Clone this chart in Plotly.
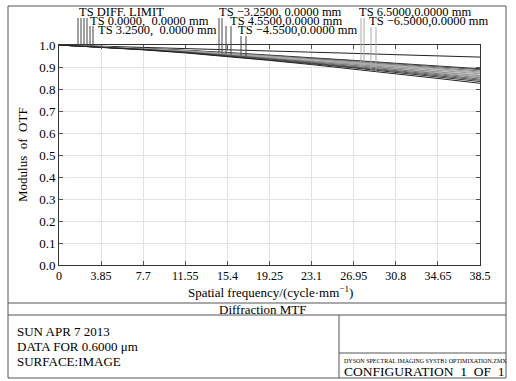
import plotly.graph_objects as go
import numpy as np

# ---------------- data ----------------
freq = [0, 3.85, 7.7, 11.55, 15.4, 19.25, 23.1, 26.95, 30.8, 34.65, 38.5]
tick_labels = ["0", "3.85", "7.7", "11.55", "15.4", "19.25", "23.1", "26.95", "30.8", "34.65", "38.5"]
y_ticks = [0.0, 0.1, 0.2, 0.3, 0.4, 0.5, 0.6, 0.7, 0.8, 0.9, 1.0]

diff_limit = [1.000, 0.995, 0.990, 0.984, 0.979, 0.973, 0.967, 0.962, 0.956, 0.951, 0.945]
t_0 = [1.000, 0.993, 0.985, 0.976, 0.966, 0.955, 0.943, 0.930, 0.917, 0.905, 0.892]
s_0 = [1.000, 0.993, 0.984, 0.975, 0.964, 0.953, 0.941, 0.928, 0.914, 0.901, 0.888]
t_325 = [1.000, 0.992, 0.984, 0.974, 0.963, 0.951, 0.938, 0.924, 0.910, 0.896, 0.882]
s_325 = [1.000, 0.992, 0.983, 0.973, 0.962, 0.949, 0.936, 0.921, 0.907, 0.892, 0.877]
t_m325 = [1.000, 0.992, 0.983, 0.973, 0.961, 0.948, 0.934, 0.919, 0.904, 0.888, 0.873]
s_m325 = [1.000, 0.992, 0.983, 0.972, 0.960, 0.947, 0.932, 0.917, 0.901, 0.885, 0.869]
t_455 = [1.000, 0.992, 0.982, 0.971, 0.959, 0.945, 0.930, 0.914, 0.898, 0.881, 0.864]
s_455 = [1.000, 0.991, 0.982, 0.970, 0.957, 0.943, 0.928, 0.912, 0.895, 0.877, 0.860]
t_m455 = [1.000, 0.991, 0.981, 0.969, 0.956, 0.942, 0.926, 0.909, 0.892, 0.874, 0.856]
s_m455 = [1.000, 0.991, 0.981, 0.969, 0.955, 0.940, 0.924, 0.907, 0.889, 0.870, 0.851]
t_65 = [1.000, 0.991, 0.980, 0.968, 0.954, 0.938, 0.921, 0.903, 0.884, 0.865, 0.845]
s_65 = [1.000, 0.991, 0.980, 0.967, 0.952, 0.936, 0.918, 0.900, 0.880, 0.860, 0.840]
t_m65 = [1.000, 0.990, 0.979, 0.966, 0.950, 0.933, 0.915, 0.896, 0.876, 0.855, 0.834]
s_m65 = [1.000, 0.990, 0.978, 0.964, 0.948, 0.930, 0.911, 0.891, 0.870, 0.848, 0.826]

labels = ["TS DIFF. LIMIT", "TS 0.0000,  0.0000 mm", "TS 3.2500,  0.0000 mm",
          "TS \u22123.2500, 0.0000 mm", "TS 4.5500,0.0000 mm", "TS \u22124.5500,0.0000 mm",
          "TS 6.5000,0.0000 mm", "TS \u22126.5000,0.0000 mm"]

curves = [(diff_limit, diff_limit), (t_0, s_0), (t_325, s_325), (t_m325, s_m325),
          (t_455, s_455), (t_m455, s_m455), (t_65, s_65), (t_m65, s_m65)]

# ---------------- layout geometry (pixels) ----------------
W, H = 516, 381
PL, PR, PT, PB = 59, 480, 45, 265
XMAX = 38.5


def px_x(px):
    return (px - PL) / (PR - PL)


def px_y(py):
    return (PB - py) / (PB - PT)


def data_x(px):
    return (px - PL) / (PR - PL) * XMAX


FONT = "Liberation Serif, Times New Roman, serif"

fig = go.Figure()

curve_colors = [("#222222", "#222222"), ("#2a2a2a", "#555555"), ("#777777", "#999999"),
                ("#b0b0b0", "#999999"), ("#bbbbbb", "#888888"), ("#aaaaaa", "#777777"),
                ("#666666", "#505050"), ("#333333", "#222222")]
for i, (t, s) in enumerate(curves):
    for j, c in enumerate((t, s)):
        if i == 0 and j == 1:
            continue
        fig.add_trace(go.Scatter(x=freq, y=c, mode="lines",
                                 line=dict(color=curve_colors[i][j], width=1),
                                 showlegend=False, hoverinfo="skip"))

shapes = []
annotations = []

# label text: (left px, center py)
label_pos = [(77, 12), (88, 21), (96, 30),
             (217, 12), (228, 21), (236, 30),
             (357, 12), (367, 21)]
# leader lines: (x px for T, x px for S, top py, color)
leader = [(78, 81, 18, "#444444"), (84, 87, 18, "#444444"), (90, 93, 26, "#444444"),
          (219, 222, 18, "#444444"), (226, 231, 26, "#444444"), (241, 246, 36, "#444444"),
          (361, 364, 18, "#aaaaaa"), (371, 376, 27, "#aaaaaa")]

for i, lab in enumerate(labels):
    lx, ly = label_pos[i]
    annotations.append(dict(text=lab, x=px_x(lx), y=px_y(ly), xref="paper", yref="paper",
                            xanchor="left", yanchor="middle", showarrow=False,
                            font=dict(family=FONT, size=12.5, color="black")))
    xt, xs, top, col = leader[i]
    for px, c in ((xt, curves[i][0]), (xs, curves[i][1])):
        dx = data_x(px)
        yv = float(np.interp(dx, freq, c))
        shapes.append(dict(type="line", xref="x", yref="paper", x0=dx, x1=dx,
                           y0=yv, y1=px_y(top), line=dict(color=col, width=1)))

# frame boxes
def hline(x0, x1, y):
    shapes.append(dict(type="line", xref="paper", yref="paper", x0=px_x(x0), x1=px_x(x1),
                       y0=px_y(y), y1=px_y(y), line=dict(color="#555555", width=1)))


def vline(x, y0, y1):
    shapes.append(dict(type="line", xref="paper", yref="paper", x0=px_x(x), x1=px_x(x),
                       y0=px_y(y0), y1=px_y(y1), line=dict(color="#555555", width=1)))


hline(8, 506, 6)
hline(8, 506, 378)
vline(8, 6, 378)
vline(506, 6, 378)
hline(8, 506, 303)
hline(8, 506, 315)
vline(339, 315, 378)
hline(339, 506, 353)


def text(t, x, y, size=13, anchor="left"):
    annotations.append(dict(text=t, x=px_x(x), y=px_y(y), xref="paper", yref="paper",
                            xanchor=anchor, yanchor="middle", showarrow=False,
                            font=dict(family=FONT, size=size, color="black")))


text("Spatial frequency/(cycle\u00b7mm<sup>\u22121</sup>)", 270, 292, 13, "center")
annotations.append(dict(text="Modulus  of  OTF", x=px_x(22), y=px_y(155), xref="paper",
                        yref="paper", xanchor="center", yanchor="middle", showarrow=False,
                        textangle=-90, font=dict(family=FONT, size=13, color="black")))
text("Diffraction MTF", 263, 309, 13, "center")
text("SUN APR 7 2013", 15, 331, 13)
text("DATA FOR 0.6000 \u03bcm", 15, 346, 13)
text("SURFACE:IMAGE", 15, 361, 13)
text("DYSON SPECTRAL IMAGING SYSTB1 OPTIMIXATION.ZMX", 342, 361, 6)
text("CONFIGURATION  1  OF  1", 342, 371, 13.5)

fig.update_layout(
    width=W, height=H,
    margin=dict(l=PL, r=W - PR, t=PT, b=H - PB),
    paper_bgcolor="white", plot_bgcolor="white",
    shapes=shapes, annotations=annotations,
    xaxis=dict(range=[0, XMAX], tickvals=freq, ticktext=tick_labels,
               showgrid=True, gridcolor="#e2e2e2", gridwidth=1,
               showline=True, linecolor="#333333", linewidth=1, mirror="ticks",
               ticks="inside", ticklen=4, tickcolor="#555555", zeroline=False,
               tickfont=dict(family=FONT, size=12, color="black")),
    yaxis=dict(range=[0, 1.0], tickvals=y_ticks,
               ticktext=["%.1f" % v for v in y_ticks],
               showgrid=True, gridcolor="#e2e2e2", gridwidth=1,
               showline=True, linecolor="#333333", linewidth=1, mirror="ticks",
               ticks="inside", ticklen=4, tickcolor="#555555", zeroline=False,
               tickfont=dict(family=FONT, size=13, color="black")),
)

fig.write_html("out.html")
